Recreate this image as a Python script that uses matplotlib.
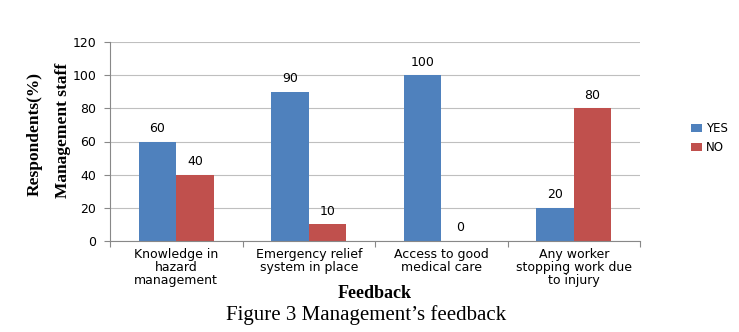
import numpy as np
from matplotlib import pyplot as plt

categories = ['Knowledge in\nhazard\nmanagement', 'Emergency relief\nsystem in place',
              'Access to good\nmedical care', 'Any worker\nstopping work due\nto injury']
yes_values = [60, 90, 100, 20]
no_values = [40, 10, 0, 80]
series_names = ['YES', 'NO']

fig = plt.figure(figsize=(7.39, 3.32), dpi=100)
ax = fig.add_axes([110/739, 1-241/332, 530/739, 199/332])

x = np.arange(len(categories))
w = 0.283
b1 = ax.bar(x - w/2, yes_values, w, color='#4F81BD', label=series_names[0])
b2 = ax.bar(x + w/2, no_values, w, color='#C0504D', label=series_names[1])

for bars in (b1, b2):
  for r in bars:
    ax.text(r.get_x() + r.get_width()/2, r.get_height() + 4, str(int(r.get_height())),
            ha='center', va='bottom', fontsize=9)

ax.set_xlim(-0.5, len(categories) - 0.5)
ax.set_ylim(0, 120)
ax.set_yticks(range(0, 121, 20))
ax.yaxis.grid(True, color='#bfbfbf', linewidth=0.8)
ax.set_axisbelow(True)
ax.set_xticks(np.arange(len(categories) + 1) - 0.5)
ax.set_xticklabels([])
ax.set_xticks(x, minor=True)
ax.set_xticklabels(categories, minor=True, fontsize=9, linespacing=1.0)
ax.tick_params(axis='x', which='minor', length=0, pad=5)
ax.tick_params(axis='x', which='major', length=4, color='#888888')
ax.tick_params(axis='y', length=4, color='#888888', labelsize=9, pad=6)
for s in ['top', 'right']:
  ax.spines[s].set_visible(False)
ax.spines['left'].set_color('#888888')
ax.spines['bottom'].set_color('#888888')

# y label drawn as two rotated lines
fig.text(35/739, 1-134/332, 'Respondents(%)', fontfamily='Liberation Serif', fontweight='bold',
         fontsize=12.5, rotation=90, ha='center', va='center')
fig.text(63/739, 1-130/332, 'Management staff', fontfamily='Liberation Serif', fontweight='bold',
         fontsize=12.5, rotation=90, ha='center', va='center')
fig.text(375/739, 1-293/332, 'Feedback', fontfamily='Liberation Serif', fontweight='bold',
         fontsize=13, ha='center', va='center')
fig.text(366/739, 1-315/332, 'Figure 3 Management\u2019s feedback', fontfamily='Liberation Serif',
         fontsize=15, ha='center', va='center')

ax.legend(loc='center left', bbox_to_anchor=(680/739, 1-138/332), bbox_transform=fig.transFigure,
          frameon=False, fontsize=8.5, handlelength=1.0, handleheight=0.6, handletextpad=0.3)

plt.savefig('out.png')
